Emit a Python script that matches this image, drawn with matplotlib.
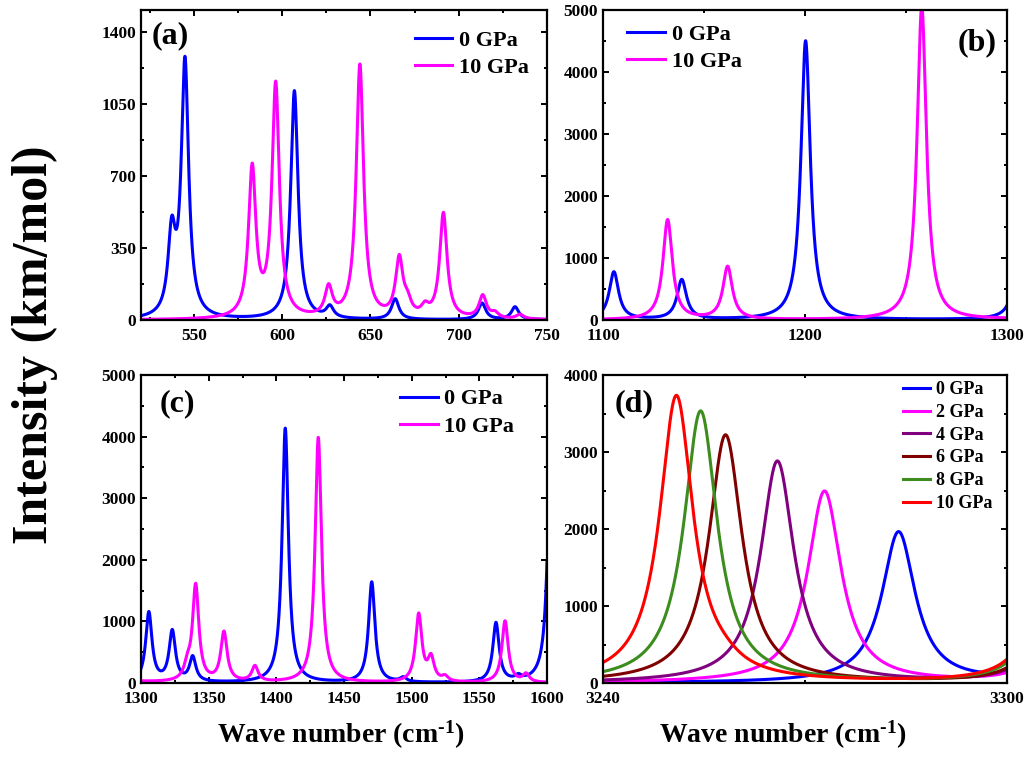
import numpy as np
import matplotlib
matplotlib.use('Agg')
import matplotlib.pyplot as plt
from matplotlib.ticker import MultipleLocator, FixedLocator

plt.rcParams['font.family'] = 'Liberation Serif'
plt.rcParams['font.weight'] = 'bold'
plt.rcParams['mathtext.fontset'] = 'custom'
plt.rcParams['mathtext.rm'] = 'Liberation Serif:bold'
plt.rcParams['mathtext.bf'] = 'Liberation Serif:bold'
plt.rcParams['mathtext.it'] = 'Liberation Serif:bold'

# Peak lists: position (cm-1) and intensity (km/mol)
# 0 GPa, 520-1610 cm-1
pos_0gpa = [537.4, 544.9, 606.9, 627.0, 664.0, 713.2, 731.9,
            1105.4, 1139.0, 1200.3,
            1305.8, 1323.1, 1338.2, 1406.6, 1470.5, 1493.8, 1562.3, 1578.8, 1603.0]
int_0gpa = [380, 1240, 1110, 55, 100, 80, 62,
            770, 640, 4500,
            1130, 820, 400, 4130, 1630, 70, 960, 70, 4200]

# 10 GPa, 520-1600 cm-1
pos_10gpa = [583.0, 596.3, 626.3, 644.0, 666.3, 671.0, 680.9, 691.3, 713.6, 720.5, 734.7,
             1132.0, 1161.7, 1257.8,
             1334.2, 1340.4, 1361.3, 1384.2, 1431.0, 1505.2, 1514.3, 1524.6, 1569.0, 1584.5]
int_10gpa = [720, 1130, 140, 1230, 280, 60, 45, 510, 110, 25, 22,
             1610, 850, 5050,
             200, 1560, 800, 250, 3980, 1095, 370, 80, 1000, 130]

# Panel (d), 3240-3300 cm-1, one band per pressure (+ the band above 3300)
labels_d = ['0 GPa', '2 GPa', '4 GPa', '6 GPa', '8 GPa', '10 GPa']
colors_d = ['#0000FF', '#FF00FF', '#800080', '#800000', '#3C8C1E', '#FF0000']
pos_d = [[3283.9, 3306.0],
         [3272.9, 3306.0],
         [3265.9, 3306.0],
         [3258.2, 3306.0],
         [3254.5, 3306.0],
         [3250.9, 3258.0, 3306.0]]
int_d = [[1960, 360],
         [2490, 540],
         [2880, 790],
         [3220, 920],
         [3530, 1260],
         [3720, 80, 1480]]


def lorentz(x, pos, amp, hw):
    y = np.zeros_like(x)
    for p, a in zip(pos, amp):
        y += a * hw ** 2 / ((x - p) ** 2 + hw ** 2)
    return y


W, H = 1028, 773
fig = plt.figure(figsize=(W / 100, H / 100), dpi=100)


def px_axes(x0, y0, x1, y1):
    return fig.add_axes([x0 / W, 1 - y1 / H, (x1 - x0) / W, (y1 - y0) / H])


ax_a = px_axes(141, 10, 547, 320)
ax_b = px_axes(603, 10, 1007, 320)
ax_c = px_axes(141, 375, 547, 683)
ax_d = px_axes(603, 375, 1007, 683)

lw = 2.2
blue, magenta = '#0000FF', '#FF00FF'


def style(ax):
    for s in ax.spines.values():
        s.set_linewidth(1.6)
    ax.tick_params(which='both', direction='in', top=True, right=True,
                   labelsize=12.5, width=1.4)
    ax.tick_params(which='major', length=4)
    ax.tick_params(which='minor', length=2.5)
    ax.tick_params(axis='x', pad=6)


def pair_panel(ax, xmin, xmax, ymax, hw, letter, letter_pos, leg_pos):
    x = np.linspace(xmin, xmax, 3000)
    ax.plot(x, lorentz(x, pos_0gpa, int_0gpa, hw), color=blue, lw=lw, label='0 GPa')
    ax.plot(x, lorentz(x, pos_10gpa, int_10gpa, hw), color=magenta, lw=lw, label='10 GPa')
    ax.set_xlim(xmin, xmax)
    ax.set_ylim(0, ymax)
    ax.text(letter_pos[0], letter_pos[1], letter, transform=ax.transAxes,
            fontsize=23, ha=letter_pos[2], va='top')
    ax.legend(loc='upper left', bbox_to_anchor=leg_pos, frameon=False, fontsize=16,
              handlelength=1.7, handletextpad=0.3, labelspacing=0.3,
              borderpad=0, borderaxespad=0)
    style(ax)


# (a)
pair_panel(ax_a, 520, 750, 1505, 2.5, '(a)', (0.025, 0.965, 'left'), (0.674, 0.935))
ax_a.xaxis.set_major_locator(MultipleLocator(50))
ax_a.xaxis.set_minor_locator(MultipleLocator(25))
ax_a.yaxis.set_major_locator(MultipleLocator(350))
ax_a.yaxis.set_minor_locator(MultipleLocator(175))

# (b)
pair_panel(ax_b, 1100, 1300, 5000, 2.8, '(b)', (0.975, 0.94, 'right'), (0.06, 0.955))
ax_b.xaxis.set_major_locator(MultipleLocator(100))
ax_b.xaxis.set_minor_locator(MultipleLocator(50))
ax_b.yaxis.set_major_locator(MultipleLocator(1000))
ax_b.yaxis.set_minor_locator(MultipleLocator(500))

# (c)
pair_panel(ax_c, 1300, 1600, 5000, 2.8, '(c)', (0.045, 0.955, 'left'), (0.638, 0.955))
ax_c.xaxis.set_major_locator(MultipleLocator(50))
ax_c.xaxis.set_minor_locator(MultipleLocator(25))
ax_c.yaxis.set_major_locator(MultipleLocator(1000))
ax_c.yaxis.set_minor_locator(MultipleLocator(500))

# (d)
xd = np.linspace(3240, 3300, 2000)
for lab, col, p, a in zip(labels_d, colors_d, pos_d, int_d):
    ax_d.plot(xd, lorentz(xd, p, a, 3.0), color=col, lw=lw, label=lab)
ax_d.set_xlim(3240, 3300)
ax_d.set_ylim(0, 4000)
ax_d.xaxis.set_major_locator(FixedLocator([3240, 3300]))
ax_d.xaxis.set_minor_locator(FixedLocator([3270]))
ax_d.yaxis.set_major_locator(MultipleLocator(1000))
ax_d.yaxis.set_minor_locator(MultipleLocator(500))
ax_d.text(0.03, 0.955, '(d)', transform=ax_d.transAxes, fontsize=23, ha='left', va='top')
ax_d.legend(loc='upper left', bbox_to_anchor=(0.743, 0.98), frameon=False, fontsize=13,
            handlelength=1.5, handletextpad=0.3, labelspacing=0.32,
            borderpad=0, borderaxespad=0)
style(ax_d)

# shared labels
fig.text(35 / W, 1 - 345 / H, 'Intensity (km/mol)', rotation=90, fontsize=36,
         ha='center', va='center')
xlab = 'Wave number (cm$^{\\mathbf{\u20101}}$)'
fig.text(341 / W, 1 - 743 / H, xlab, fontsize=20, ha='center', va='baseline')
fig.text(783 / W, 1 - 743 / H, xlab, fontsize=20, ha='center', va='baseline')

fig.savefig('out.png', dpi=100)
